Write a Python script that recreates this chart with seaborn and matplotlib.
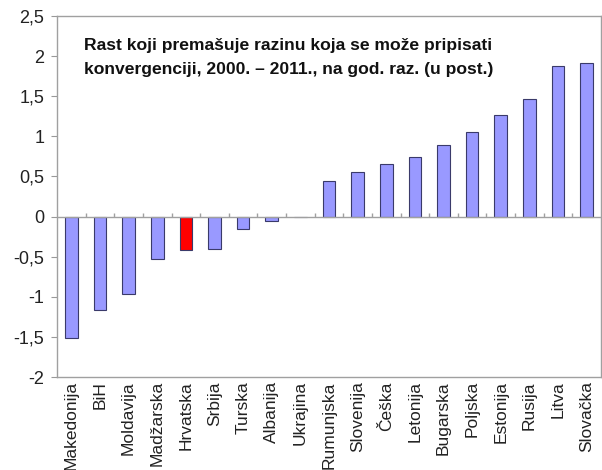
import matplotlib
matplotlib.use("Agg")
import matplotlib.pyplot as plt
import seaborn as sns
import pandas as pd

countries = ["Makedonija", "BiH", "Moldavija", "Madžarska", "Hrvatska", "Srbija",
             "Turska", "Albanija", "Ukrajina", "Rumunjska", "Slovenija", "Češka",
             "Letonija", "Bugarska", "Poljska", "Estonija", "Rusija", "Litva", "Slovačka"]
values = [-1.51, -1.17, -0.96, -0.53, -0.42, -0.40, -0.16, -0.06, 0.0, 0.44,
          0.55, 0.66, 0.74, 0.89, 1.06, 1.27, 1.46, 1.88, 1.91]
highlight = "Hrvatska"
yticks = [-2, -1.5, -1, -0.5, 0, 0.5, 1, 1.5, 2, 2.5]
ytick_labels = ["-2", "-1,5", "-1", "-0,5", "0", "0,5", "1", "1,5", "2", "2,5"]
title = "Rast koji premašuje razinu koja se može pripisati\nkonvergenciji, 2000. – 2011., na god. raz. (u post.)"

sns.set_style("white")
plt.rcParams['font.family'] = ['Liberation Sans', 'DejaVu Sans']

df = pd.DataFrame({"country": countries, "value": values})
palette = {c: ("#FF0000" if c == highlight else "#9999FF") for c in countries}

fig = plt.figure(figsize=(6.02, 4.70), dpi=100)
ax = fig.add_axes([57/602, 1 - 377/470, (601 - 57)/602, (377 - 16)/470])

sns.barplot(data=df, x="country", y="value", hue="country", palette=palette,
            legend=False, width=0.44, edgecolor="#3a3a6a", linewidth=0.8,
            saturation=1, ax=ax)

ax.set_xlim(-0.5, len(countries) - 0.5)
ax.set_ylim(-2, 2.5)
ax.set_yticks(yticks)
ax.set_yticklabels(ytick_labels, fontsize=13, color="#222222")
ax.set_xticks(range(len(countries)))
ax.set_xticklabels(countries, rotation=90, fontsize=12.5, color="#222222")
ax.tick_params(axis="x", length=0, pad=3)
ax.tick_params(axis="y", length=4, width=0.8, color="#999999", pad=5, left=True)
ax.set_xlabel("")
ax.set_ylabel("")

for s in ax.spines.values():
    s.set_color("#A0A0A0")
    s.set_linewidth(1.0)

ax.axhline(0, color="#A0A0A0", linewidth=1.0, zorder=3)
ax.vlines([i + 0.5 for i in range(len(countries) - 1)], 0, 0.05,
          color="#A0A0A0", linewidth=1.0, zorder=3)

ax.text(0.425, 0.94, title, transform=ax.transAxes, ha="center", va="top",
        multialignment="center", fontsize=12.6, fontweight="bold",
        color="#111111", linespacing=1.8)

fig.savefig("out.png", dpi=100)
